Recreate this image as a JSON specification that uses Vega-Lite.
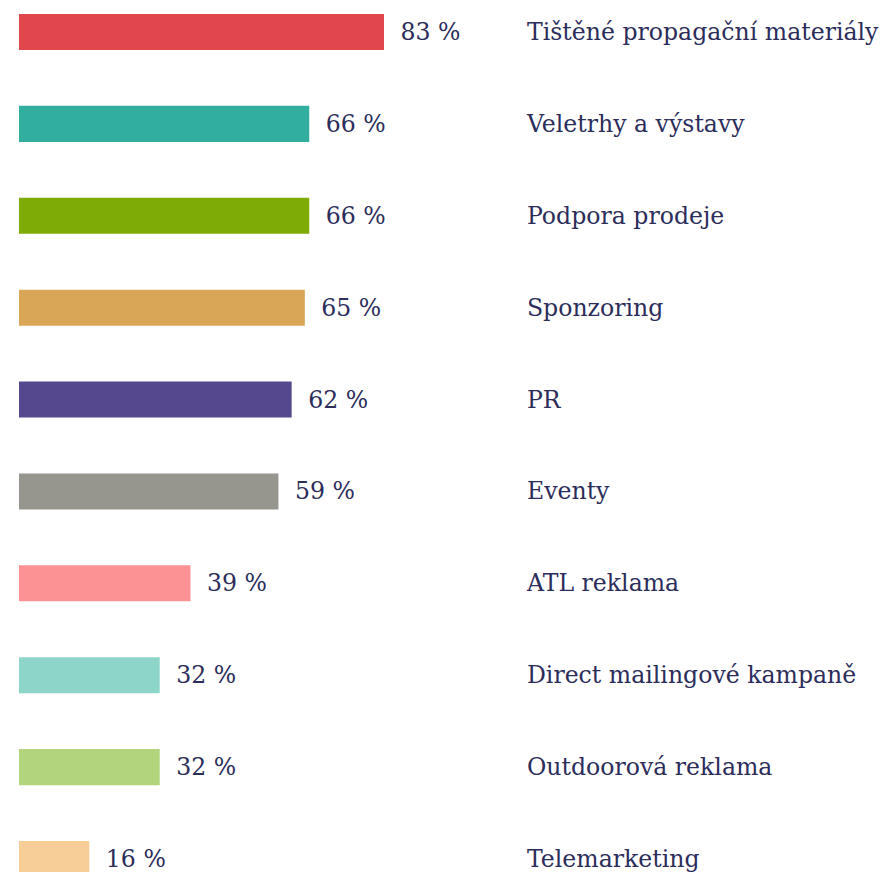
{
  "$schema": "https://vega.github.io/schema/vega-lite/v6.json",
  "autosize": "none",
  "padding": {"left": 19, "top": 0, "right": 0, "bottom": 0},
  "width": 865,
  "height": 891,
  "background": "white",
  "config": {"view": {"stroke": null}},
  "data": {
    "values": [
      {"cat": "Tištěné propagační materiály", "value": 83, "color": "#e0474c"},
      {"cat": "Veletrhy a výstavy", "value": 66, "color": "#31ae9e"},
      {"cat": "Podpora prodeje", "value": 66, "color": "#7fab06"},
      {"cat": "Sponzoring", "value": 65, "color": "#d9a657"},
      {"cat": "PR", "value": 62, "color": "#55488f"},
      {"cat": "Eventy", "value": 59, "color": "#96968f"},
      {"cat": "ATL reklama", "value": 39, "color": "#fd9294"},
      {"cat": "Direct mailingové kampaně", "value": 32, "color": "#8dd5c8"},
      {"cat": "Outdoorová reklama", "value": 32, "color": "#b2d47c"},
      {"cat": "Telemarketing", "value": 16, "color": "#f7cd98"}
    ]
  },
  "encoding": {
    "y": {
      "field": "cat",
      "type": "nominal",
      "sort": null,
      "axis": null,
      "scale": {"paddingInner": 0.608, "paddingOuter": 0.152}
    }
  },
  "layer": [
    {
      "mark": {"type": "bar"},
      "encoding": {
        "x": {"field": "value", "type": "quantitative", "axis": null, "scale": {"domain": [0, 196.7], "nice": false}},
        "color": {"field": "color", "type": "nominal", "scale": null, "legend": null}
      }
    },
    {
      "mark": {"type": "text", "align": "left", "baseline": "middle", "dx": 16.5, "dy": 1, "font": "DejaVu Serif", "fontSize": 23.6, "color": "#2c2d5a"},
      "transform": [{"calculate": "datum.value + ' %'", "as": "lab"}],
      "encoding": {
        "x": {"field": "value", "type": "quantitative"},
        "text": {"field": "lab", "type": "nominal"}
      }
    },
    {
      "mark": {"type": "text", "align": "left", "baseline": "middle", "dy": 1, "font": "DejaVu Serif", "fontSize": 23.6, "color": "#2c2d5a"},
      "encoding": {
        "x": {"datum": 115.5, "type": "quantitative"},
        "text": {"field": "cat", "type": "nominal"}
      }
    }
  ]
}
